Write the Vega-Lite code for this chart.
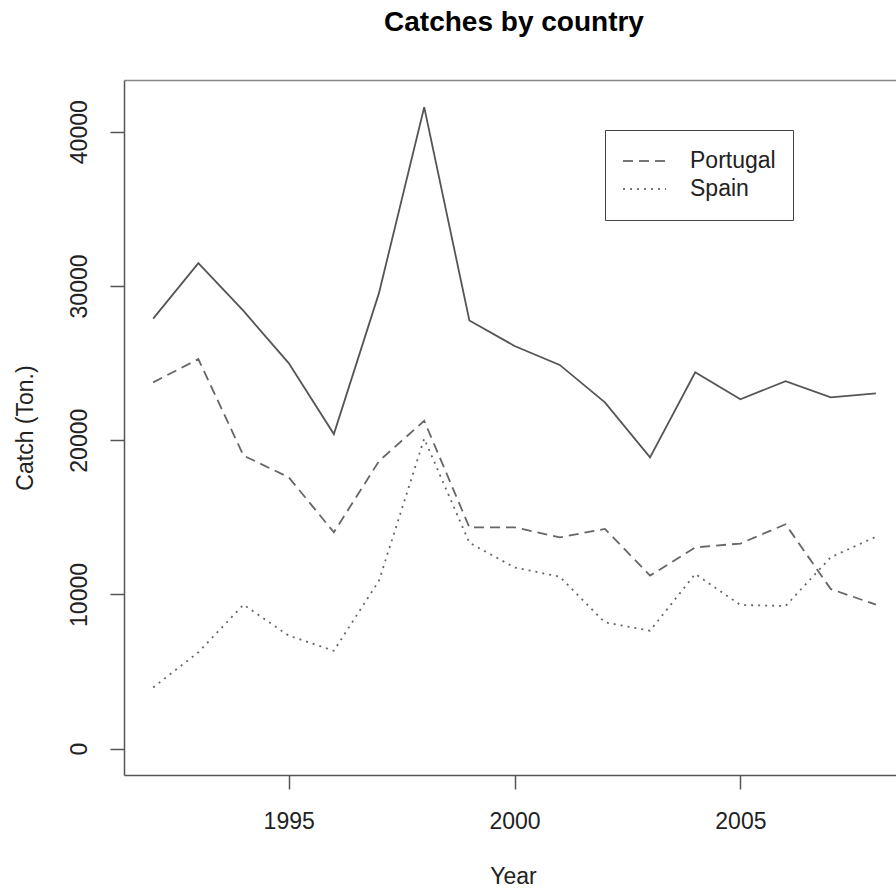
{
  "$schema": "https://vega.github.io/schema/vega-lite/v6.json",
  "width": 772,
  "height": 695,
  "autosize": {"type": "none"},
  "padding": {"left": 124, "top": 80, "right": 0, "bottom": 120},
  "background": "white",
  "title": {
    "text": "Catches by country",
    "font": "Liberation Sans",
    "fontSize": 28,
    "fontWeight": "bold",
    "color": "#000000",
    "anchor": "middle",
    "frame": "group",
    "baseline": "alphabetic",
    "offset": 21,
    "dx": 4
  },
  "config": {
    "view": {"stroke": null},
    "font": "Liberation Sans",
    "axis": {"grid": false, "labelFont": "Liberation Sans", "titleFont": "Liberation Sans"}
  },
  "data": {
    "values": [
      {"Year": 1992, "Country": "Total", "Catch": 27880},
      {"Year": 1993, "Country": "Total", "Catch": 31480},
      {"Year": 1994, "Country": "Total", "Catch": 28380},
      {"Year": 1995, "Country": "Total", "Catch": 25000},
      {"Year": 1996, "Country": "Total", "Catch": 20400},
      {"Year": 1997, "Country": "Total", "Catch": 29550},
      {"Year": 1998, "Country": "Total", "Catch": 41590},
      {"Year": 1999, "Country": "Total", "Catch": 27760},
      {"Year": 2000, "Country": "Total", "Catch": 26110},
      {"Year": 2001, "Country": "Total", "Catch": 24880},
      {"Year": 2002, "Country": "Total", "Catch": 22450},
      {"Year": 2003, "Country": "Total", "Catch": 18890},
      {"Year": 2004, "Country": "Total", "Catch": 24400},
      {"Year": 2005, "Country": "Total", "Catch": 22650},
      {"Year": 2006, "Country": "Total", "Catch": 23830},
      {"Year": 2007, "Country": "Total", "Catch": 22780},
      {"Year": 2008, "Country": "Total", "Catch": 23040},
      {"Year": 1992, "Country": "Portugal", "Catch": 23750},
      {"Year": 1993, "Country": "Portugal", "Catch": 25260},
      {"Year": 1994, "Country": "Portugal", "Catch": 19000},
      {"Year": 1995, "Country": "Portugal", "Catch": 17600},
      {"Year": 1996, "Country": "Portugal", "Catch": 14030},
      {"Year": 1997, "Country": "Portugal", "Catch": 18650},
      {"Year": 1998, "Country": "Portugal", "Catch": 21260},
      {"Year": 1999, "Country": "Portugal", "Catch": 14350},
      {"Year": 2000, "Country": "Portugal", "Catch": 14350},
      {"Year": 2001, "Country": "Portugal", "Catch": 13700},
      {"Year": 2002, "Country": "Portugal", "Catch": 14250},
      {"Year": 2003, "Country": "Portugal", "Catch": 11220},
      {"Year": 2004, "Country": "Portugal", "Catch": 13050},
      {"Year": 2005, "Country": "Portugal", "Catch": 13300},
      {"Year": 2006, "Country": "Portugal", "Catch": 14550},
      {"Year": 2007, "Country": "Portugal", "Catch": 10350},
      {"Year": 2008, "Country": "Portugal", "Catch": 9340},
      {"Year": 1992, "Country": "Spain", "Catch": 3970},
      {"Year": 1993, "Country": "Spain", "Catch": 6250},
      {"Year": 1994, "Country": "Spain", "Catch": 9340},
      {"Year": 1995, "Country": "Spain", "Catch": 7330},
      {"Year": 1996, "Country": "Spain", "Catch": 6350},
      {"Year": 1997, "Country": "Spain", "Catch": 10900},
      {"Year": 1998, "Country": "Spain", "Catch": 20100},
      {"Year": 1999, "Country": "Spain", "Catch": 13350},
      {"Year": 2000, "Country": "Spain", "Catch": 11750},
      {"Year": 2001, "Country": "Spain", "Catch": 11150},
      {"Year": 2002, "Country": "Spain", "Catch": 8190},
      {"Year": 2003, "Country": "Spain", "Catch": 7650},
      {"Year": 2004, "Country": "Spain", "Catch": 11330},
      {"Year": 2005, "Country": "Spain", "Catch": 9320},
      {"Year": 2006, "Country": "Spain", "Catch": 9250},
      {"Year": 2007, "Country": "Spain", "Catch": 12410},
      {"Year": 2008, "Country": "Spain", "Catch": 13740}
    ]
  },
  "layer": [
    {
      "transform": [{"filter": "datum.Country === 'Total'"}],
      "mark": {"type": "line", "color": "#555555", "strokeWidth": 1.8},
      "encoding": {
        "x": {
          "field": "Year",
          "type": "quantitative",
          "scale": {"domain": [1991.354, 2008.445], "nice": false, "zero": false},
          "axis": {
            "orient": "bottom",
            "values": [1995, 2000, 2005],
            "format": "d",
            "title": "Year",
            "labelFontSize": 23,
            "labelColor": "#222222",
            "labelAlign": "center",
            "labelBaseline": "alphabetic",
            "labelPadding": 39,
            "labelFlush": false,
            "labelOverlap": false,
            "tickSize": 14,
            "tickWidth": 1.5,
            "tickColor": "#555555",
            "domainColor": "#555555",
            "domainWidth": 1.5,
            "titleFontSize": 23,
            "titleFontWeight": "normal",
            "titleColor": "#222222",
            "titleAlign": "center",
            "titleBaseline": "alphabetic",
            "titleX": 389,
            "titleY": 108
          }
        },
        "y": {
          "field": "Catch",
          "type": "quantitative",
          "scale": {"domain": [-1705, 43352], "nice": false, "zero": false},
          "axis": {
            "values": [0, 10000, 20000, 30000, 40000],
            "format": "d",
            "title": "Catch (Ton.)",
            "labelFontSize": 23,
            "labelColor": "#222222",
            "labelAngle": 270,
            "labelAlign": "center",
            "labelBaseline": "alphabetic",
            "labelPadding": 24,
            "labelFlush": false,
            "labelOverlap": false,
            "tickSize": 14,
            "tickWidth": 1.5,
            "tickColor": "#555555",
            "domainColor": "#555555",
            "domainWidth": 1.5,
            "titleFontSize": 23,
            "titleFontWeight": "normal",
            "titleColor": "#222222",
            "titleAngle": 270,
            "titleAlign": "center",
            "titleBaseline": "alphabetic",
            "titleX": -91.5,
            "titleY": 347.5
          }
        }
      }
    },
    {
      "transform": [{"filter": "datum.Country !== 'Total'"}],
      "mark": {"type": "line", "color": "#666666", "strokeWidth": 1.8},
      "encoding": {
        "x": {
          "field": "Year",
          "type": "quantitative",
          "axis": {
            "orient": "top",
            "labels": false,
            "ticks": false,
            "title": null,
            "domainColor": "#888888",
            "domainWidth": 1.5
          }
        },
        "y": {"field": "Catch", "type": "quantitative"},
        "strokeDash": {
          "field": "Country",
          "type": "nominal",
          "scale": {"domain": ["Portugal", "Spain"], "range": [[10, 6], [2, 5]]},
          "legend": {
            "orient": "none",
            "legendX": 481,
            "legendY": 50,
            "title": null,
            "padding": 17,
            "strokeColor": "#444444",
            "symbolType": "stroke",
            "symbolSize": 1849,
            "symbolStrokeWidth": 1.8,
            "symbolStrokeColor": "#777777",
            "labelFont": "Liberation Sans",
            "labelFontSize": 23,
            "labelColor": "#222222",
            "labelOffset": 23,
            "labelBaseline": "middle",
            "clipHeight": 28,
            "rowPadding": 0
          }
        }
      }
    }
  ],
  "resolve": {"axis": {"x": "independent"}}
}
